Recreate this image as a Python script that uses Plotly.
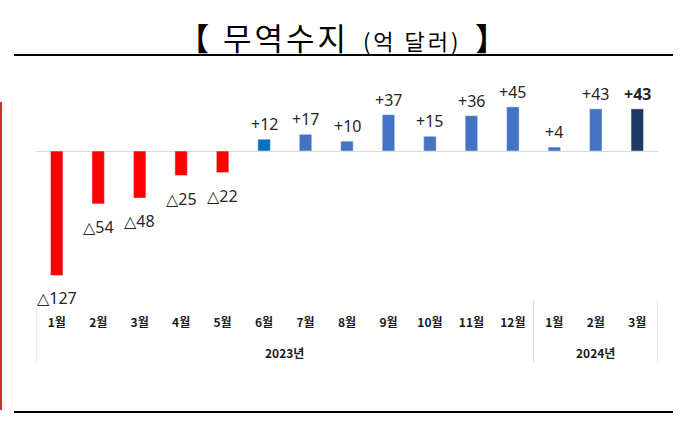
import plotly.graph_objects as go

months = ["1월", "2월", "3월", "4월", "5월", "6월", "7월", "8월", "9월", "10월", "11월", "12월", "1월", "2월", "3월"]
values = [-127, -54, -48, -25, -22, 12, 17, 10, 37, 15, 36, 45, 4, 43, 43]
years = ["2023년", "2024년"]
year_counts = [12, 3]

colors = []
for i, v in enumerate(values):
    if v < 0:
        colors.append("#FF0000")
    elif i == 5:
        colors.append("#0070C0")
    elif i == len(values) - 1:
        colors.append("#1F3864")
    else:
        colors.append("#4472C4")

x = list(range(len(values)))

W, H = 681, 428
L, R, T, B = 36, 23, 80, 128
pw, ph = W - L - R, H - T - B
zero_px = 151
ppu = 0.98
ytop = (zero_px - T) / ppu
ybot = -((H - B) - zero_px) / ppu


def px_to_py(ypx):
    return ((H - B) - ypx) / ph


def px_to_pxr(xpx):
    return (xpx - L) / pw


fig = go.Figure(go.Bar(x=x, y=values, marker_color=colors, width=0.3, hoverinfo="skip"))

ann = []
for i, v in enumerate(values):
    if v < 0:
        txt = "△" + str(abs(v))
        ys = -23
    else:
        txt = "+" + str(v)
        ys = 15
    if i == len(values) - 1:
        txt = "<b>" + txt + "</b>"
    ann.append(dict(x=i, y=v, xref="x", yref="y", text=txt, showarrow=False,
                    yanchor="middle", xanchor="center", yshift=ys,
                    font=dict(family="Noto Sans, DejaVu Sans", size=16, color="#262626")))

# year labels
start = 0
for yl, c in zip(years, year_counts):
    ann.append(dict(x=start + (c - 1) / 2, y=px_to_py(352), xref="x", yref="paper",
                    text="<b>" + yl + "</b>", showarrow=False, yanchor="middle",
                    font=dict(family="Noto Sans CJK KR", size=12, color="#1a1a1a")))
    start += c

# title
ann.append(dict(x=px_to_pxr(342), y=px_to_py(36), xref="paper", yref="paper", showarrow=False,
                yanchor="middle", xanchor="center",
                text="<b>【</b>  <span style='letter-spacing:3px'>무역수지</span>  "
                     "<span style='font-size:22px;letter-spacing:3px'>(억 달러)</span>  <b>】</b>",
                font=dict(family="Noto Sans CJK KR", size=31, color="#000000")))

shapes = []
# separators
bounds = [-0.5]
acc = -0.5
for c in year_counts:
    acc += c
    bounds.append(acc)
for b in bounds:
    shapes.append(dict(type="line", xref="x", yref="paper", x0=b, x1=b,
                       y0=px_to_py(300), y1=px_to_py(363), line=dict(color="#D9D9D9", width=1)))
# top and bottom black rules
shapes.append(dict(type="line", xref="paper", yref="paper", x0=px_to_pxr(14), x1=px_to_pxr(673),
                   y0=px_to_py(55), y1=px_to_py(55), line=dict(color="#000000", width=2)))
shapes.append(dict(type="line", xref="paper", yref="paper", x0=px_to_pxr(14), x1=px_to_pxr(673),
                   y0=px_to_py(412), y1=px_to_py(412), line=dict(color="#000000", width=2)))
# left red rule
shapes.append(dict(type="line", xref="paper", yref="paper", x0=px_to_pxr(1), x1=px_to_pxr(1),
                   y0=px_to_py(102), y1=px_to_py(410), line=dict(color="#D03030", width=2)))
shapes.append(dict(type="line", xref="paper", yref="paper", x0=px_to_pxr(12), x1=px_to_pxr(12),
                   y0=px_to_py(102), y1=px_to_py(410), line=dict(color="#F0F0F0", width=1)))

fig.update_layout(
    width=W, height=H,
    margin=dict(l=L, r=R, t=T, b=B),
    paper_bgcolor="white", plot_bgcolor="white",
    showlegend=False,
    annotations=ann, shapes=shapes,
    xaxis=dict(range=[-0.5, len(values) - 0.5], tickvals=x, ticktext=["<b>" + m + "</b>" for m in months],
               showgrid=False, zeroline=False, showline=False, ticks="",
               ticklabelstandoff=14,
               tickfont=dict(family="Noto Sans CJK KR", size=12, color="#1a1a1a")),
    yaxis=dict(range=[ybot, ytop], showticklabels=False, showgrid=False,
               zeroline=True, zerolinecolor="#D9D9D9", zerolinewidth=1),
)

fig.write_html("out.html", config={"displayModeBar": False},
               post_script="document.body.style.margin='0px';document.body.style.overflow='hidden';")
